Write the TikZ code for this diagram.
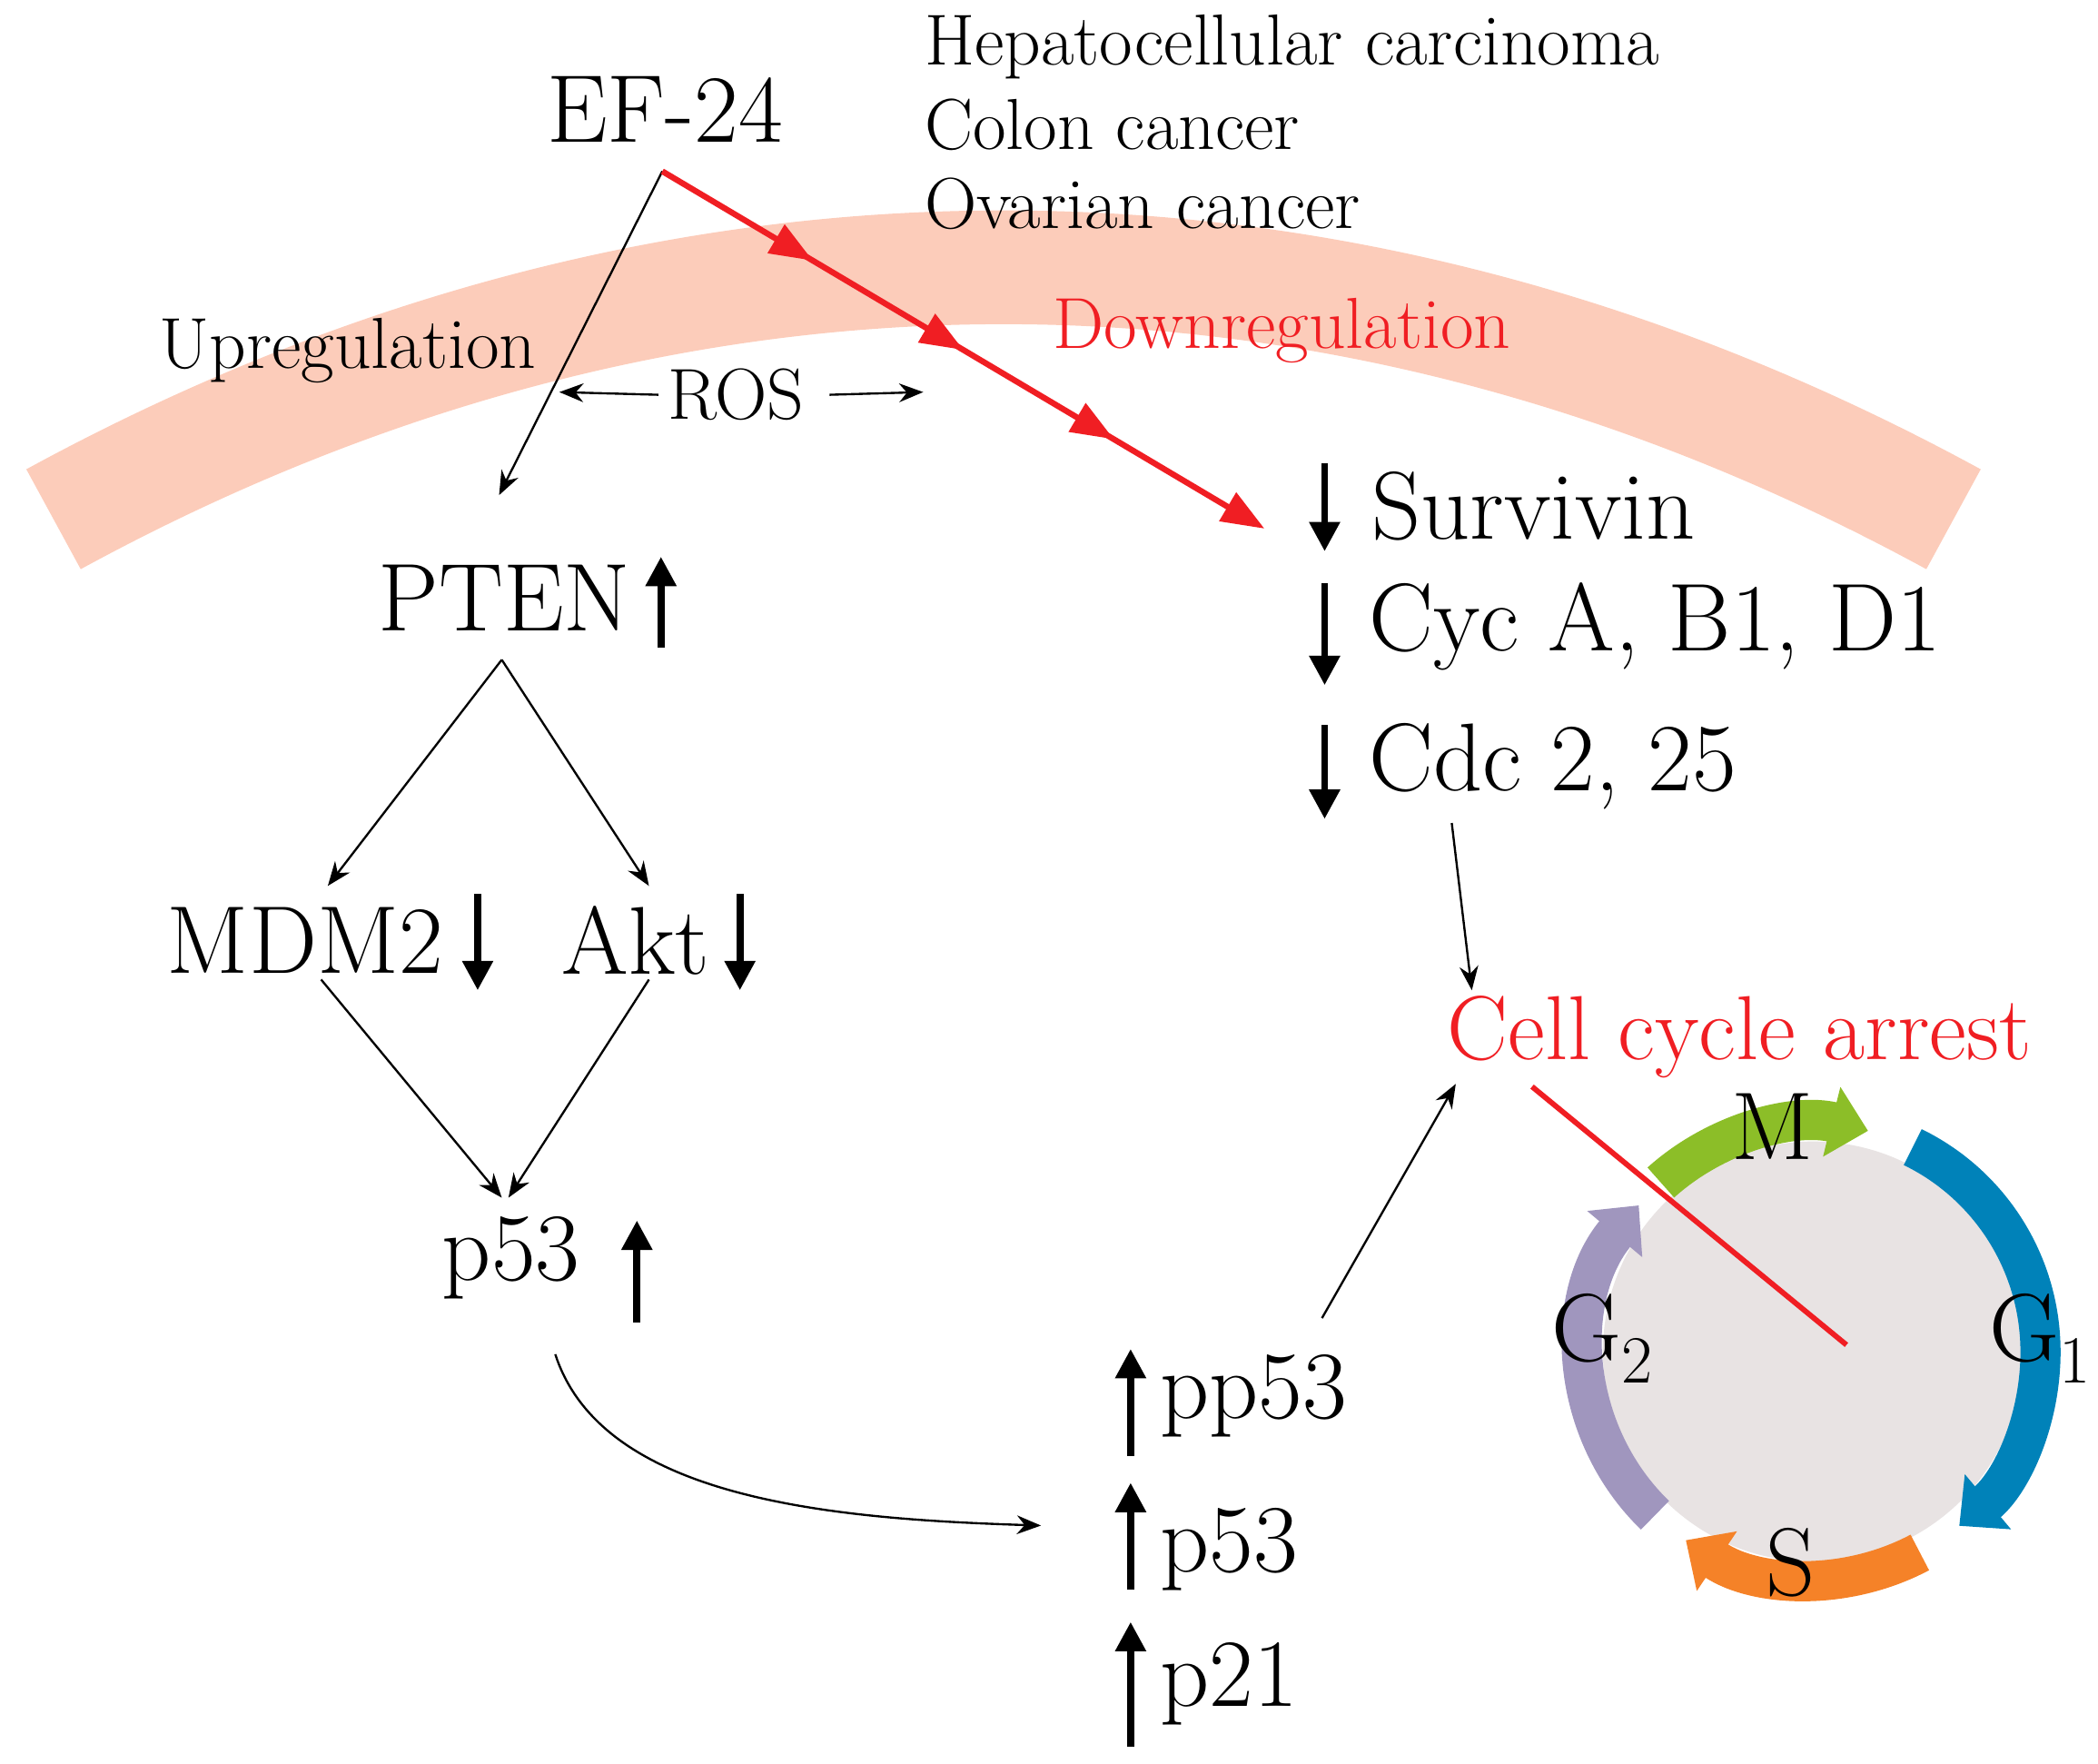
\documentclass[tikz,border=0pt]{standalone}
\usepackage{fontspec}
\usetikzlibrary{arrows.meta,decorations.markings}
\definecolor{band}{RGB}{252,204,186}
\definecolor{myred}{RGB}{240,30,35}
\definecolor{cgreen}{RGB}{140,190,40}
\definecolor{cblue}{RGB}{0,130,185}
\definecolor{corange}{RGB}{245,130,40}
\definecolor{cpurple}{RGB}{160,150,190}
\definecolor{cgray}{RGB}{232,227,227}
\begin{document}
\begin{tikzpicture}[x=0.5pt,y=-0.5pt,
  big/.style={font=\fontsize{36}{40}\selectfont},
  small/.style={font=\fontsize{27}{31}\selectfont},
  thin/.style={line width=0.8pt,-{Stealth[length=9pt,width=7pt]}},
  fat/.style={line width=2.6pt,-{Triangle[length=11pt,width=11pt]}},
  ring/.style={line width=15pt,-{Triangle[length=14pt,width=26pt]}}]
\useasboundingbox (0,0) rectangle (1568,1318);
% band
\draw[band,line width=42.5pt] (40,388) .. controls (500,137) and (1000,137) .. (1460,388);
% texts
\node[big] (ef) at (497,82) {EF-24};
\node[small,anchor=west] (hc) at (684,35) {Hepatocellular carcinoma};
\node[small,anchor=west] (cc) at (684,93) {Colon cancer};
\node[small,anchor=west] (oc) at (684,152) {Ovarian cancer};
\node[small] (up) at (260,262) {Upregulation};
\node[small,text=myred] (down) at (958,247) {Downregulation};
\node[small] (ros) at (550,295) {ROS};
\coordinate (rosl) at (418,293);
\coordinate (rosr) at (690,293);
\draw[thin] (ros.west) -- (rosl);
\draw[thin] ([xshift=6pt]ros.east) -- (rosr);
\coordinate (efp) at (495,128);
\coordinate (ptenin) at (373,370);
\draw[thin] (efp) -- (ptenin);
\coordinate (redend) at (945,395);
\draw[myred,line width=2.2pt,-{Triangle[length=16pt,width=12pt]},
  postaction={decorate},decoration={markings,
   mark=at position 0.25 with {\arrow{Triangle[length=16pt,width=12pt]}},
   mark=at position 0.5 with {\arrow{Triangle[length=16pt,width=12pt]}},
   mark=at position 0.75 with {\arrow{Triangle[length=16pt,width=12pt]}}}]
  (efp) -- (redend);
\node[big] (pten) at (377,447) {PTEN};
\draw[fat] (494,484) -- (494,416);
\node[big,anchor=west] (surv) at (1018,378) {Survivin};
\draw[fat] (990,346) -- (990,412);
\node[big,anchor=west] (cyc) at (1016,468) {Cyc A, B1, D1};
\draw[fat] (990,436) -- (990,512);
\node[big,anchor=west] (cdc) at (1016,573) {Cdc 2, 25};
\draw[fat] (990,542) -- (990,612);
\node[big] (mdm) at (228,703) {MDM2};
\draw[fat] (357,668) -- (357,740);
\node[big] (akt) at (475,703) {Akt};
\draw[fat] (553,668) -- (553,740);
\coordinate (pb) at (375,493);
\draw[thin] (pb) -- (245,662);
\draw[thin] (pb) -- (485,662);
\node[big] (p53a) at (382,940) {p53};
\draw[fat] (476,988) -- (476,912);
\draw[thin] (240,732) -- (375,895);
\draw[thin] (485,732) -- (380,895);
\node[big,text=myred,font=\fontsize{34}{38}\selectfont] (arrest) at (1300,775) {Cell cycle arrest};
\draw[thin] (1085,615) -- (1100,740);
\draw[thin] (988,985) -- (1088,810);
\node[big,anchor=west] (pp53) at (860,1043) {pp53};
\draw[fat] (845,1088) -- (845,1008);
\node[big,anchor=west] (p53b) at (860,1158) {p53};
\draw[fat] (845,1188) -- (845,1108);
\node[big,anchor=west] (p21) at (860,1258) {p21};
\draw[fat] (845,1305) -- (845,1212);
\draw[thin] (415,1012) .. controls (450,1120) and (620,1135) .. (778,1140);
% cell cycle
\coordinate (cc0) at (1355,1010);
\fill[cgray] (cc0) circle[radius=157];
\draw[ring,cgreen] (1355,1010) ++(-132:170) arc[start angle=-132,end angle=-76,radius=170];
\draw[ring,cblue] (1355,1010) ++(-64:170) arc[start angle=-64,end angle=50,radius=170];
\draw[ring,corange] (1355,1010) ++(62:170) arc[start angle=62,end angle=124,radius=170];
\draw[ring,cpurple] (1355,1010) ++(134:170) arc[start angle=134,end angle=220,radius=170];
\node[big] (m) at (1325,842) {M};
\node[big] (g1) at (1525,1000) {G\textsubscript{1}};
\node[big] (s) at (1338,1168) {S};
\node[big] (g2) at (1198,1000) {G\textsubscript{2}};
\coordinate (rl1) at (1145,812);
\coordinate (rl2) at (1380,1005);
\draw[myred,line width=2pt] (rl1) -- (rl2);
\end{tikzpicture}
\end{document}
